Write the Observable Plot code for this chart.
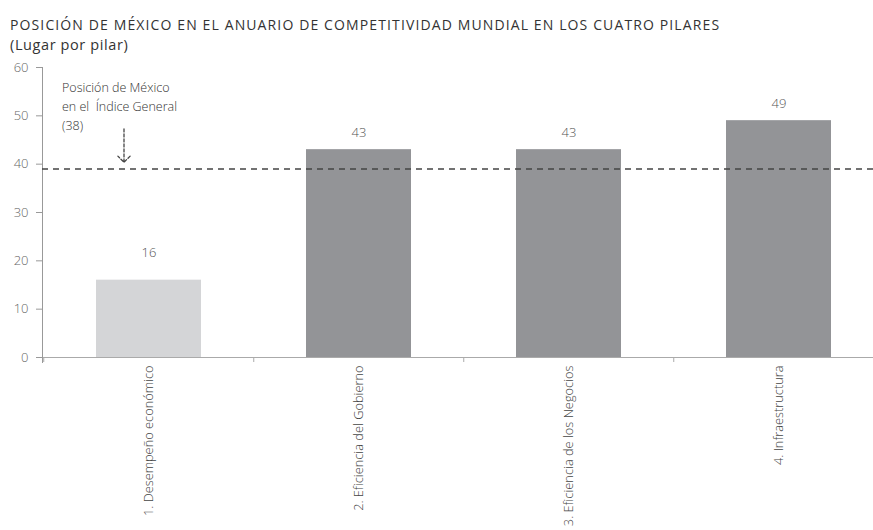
<!DOCTYPE html>
<html><head><meta charset="utf-8">
<script src="https://cdn.jsdelivr.net/npm/d3@7"></script>
<script src="https://cdn.jsdelivr.net/npm/@observablehq/plot@0.6"></script>
<style>
body{margin:0;background:#fff;width:873px;height:530px;overflow:hidden;font-family:"Open Sans",Lato,sans-serif;}
#title{position:absolute;left:10px;top:15px;font-size:14px;color:#333;line-height:20px;white-space:nowrap;font-weight:400}
#title .t{letter-spacing:1.12px}
#title .s{font-size:14.5px;letter-spacing:0.6px}
#chart{position:absolute;left:0;top:57px}
</style></head><body>
<div id="title"><span class="t">POSICIÓN DE MÉXICO EN EL ANUARIO DE COMPETITIVIDAD MUNDIAL EN LOS CUATRO PILARES</span><br><span class="s">(Lugar por pilar)</span></div>
<div id="chart"></div>
<script>
const categories = ["1. Desempeño económico","2. Eficiencia del Gobierno","3. Eficiencia de los Negocios","4. Infraestructura"];
const values = [16, 43, 43, 49];
const barColors = ["#d4d5d7","#939497","#939497","#939497"];
const yTicks = [0,10,20,30,40,50,60];
const generalIndexLine = 39;
const annotationText = "Posición de México\nen el  Índice General\n(38)";

const data = categories.map((c,i)=>({cat:c, value:values[i], color:barColors[i]}));
const W = 873, H = 473;
const FONT = "'Open Sans', Lato, sans-serif";
const labelStyle = {x:"cat", y:"value", text:d=>String(d.value), fontSize:13, fontWeight:300, fill:"#555", style:"letter-spacing:0.8px"};
const chart = Plot.plot({
  width: W, height: H,
  marginTop: 10, marginBottom: 173, marginLeft: 42, marginRight: 0,
  style:{fontFamily:FONT, color:"#555", background:"#fff", overflow:"visible"},
  x:{domain:categories, range:[42, 884], paddingInner:0.5, paddingOuter:0.25, align:0.5, label:null},
  y:{domain:[0,60], ticks:yTicks, label:null},
  marks:[
    Plot.barY(data,{x:"cat", y:"value", fill:"color"}),
    Plot.text(data.slice(0,1),{...labelStyle, dy:-27}),
    Plot.text(data.slice(1),{...labelStyle, dy:-17}),
    Plot.ruleY([0],{stroke:"#aaa"}),
    Plot.frame({anchor:"left", stroke:"#999", insetBottom:-5}),
    Plot.ruleX(categories,{x:d=>d, dx:-105.25, y1:0, y2:0, insetBottom:-5, stroke:"#aaa"}),
    Plot.ruleY([generalIndexLine],{stroke:"#444", strokeDasharray:"6,5", strokeWidth:1.3}),
    Plot.text([annotationText],{x:()=>categories[0], y:()=>57.6, text:d=>d, dx:-87, textAnchor:"start", lineAnchor:"top", lineHeight:1.5, fontSize:12.5, fontWeight:300, fill:"#333"}),
    Plot.arrow([0],{x1:()=>categories[0], x2:()=>categories[0], y1:()=>47.3, y2:()=>40.4, dx:-25, stroke:"#444", strokeDasharray:"3,2", strokeWidth:1.3, headLength:10, headAngle:90}),
    Plot.axisY({ticks:yTicks, tickSize:6, tickPadding:8, fontSize:13, fontWeight:300, stroke:"#999", fill:"#666", tickFormat:d=>d, label:null, style:"letter-spacing:0.8px"}),
    Plot.axisX({tickSize:0, tickPadding:8, tickRotate:-90, fontSize:12.8, fontWeight:300, fill:"#444", label:null})
  ]
});
document.getElementById("chart").appendChild(chart);
</script></body></html>
